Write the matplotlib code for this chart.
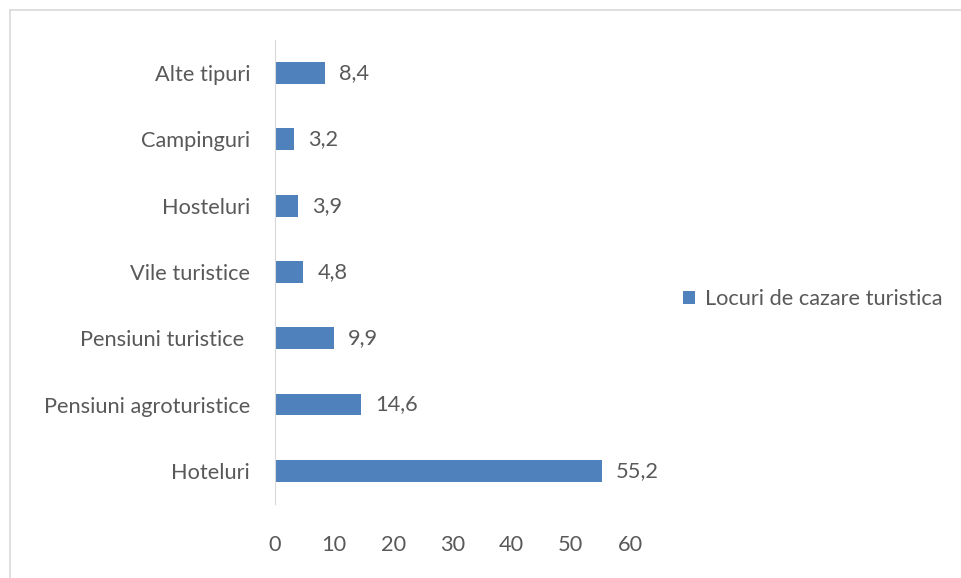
import matplotlib
matplotlib.use('Agg')
import matplotlib.pyplot as plt
from matplotlib.lines import Line2D

categories = ['Hoteluri', 'Pensiuni agroturistice', 'Pensiuni turistice ',
              'Vile turistice', 'Hosteluri', 'Campinguri', 'Alte tipuri']
values = [55.2, 14.6, 9.9, 4.8, 3.9, 3.2, 8.4]
series_name = 'Locuri de cazare turistica'
xticks = [0, 10, 20, 30, 40, 50, 60]

plt.rcParams['font.family'] = ['Lato', 'DejaVu Sans']
TXT = '#595959'
BLUE = '#4f81bd'
FS = 15.7

fig = plt.figure(figsize=(9.62, 5.78), dpi=100)
ax = fig.add_axes([0.2859, 0.128, 0.3690, 0.803])

y = range(len(categories))
ax.barh(y, values, height=0.33, color=BLUE, label=series_name)
for yi, v in zip(y, values):
    ax.annotate(f'{v:.1f}'.replace('.', ','), (v, yi), xytext=(10, 0),
                textcoords='offset points', va='center', ha='left',
                fontsize=FS, color=TXT)

ax.set_xlim(0, 60)
ax.set_ylim(-0.5, len(categories) - 0.5)
ax.set_xticks(xticks)
ax.set_yticks(list(y))
ax.set_yticklabels(categories)
ax.tick_params(axis='both', length=0, labelsize=FS, labelcolor=TXT)
ax.tick_params(axis='y', pad=18)
ax.tick_params(axis='x', pad=22)
for s in ['top', 'right', 'bottom']:
    ax.spines[s].set_visible(False)
ax.spines['left'].set_color('#d9d9d9')

fig.legend(loc='center left', bbox_to_anchor=(0.710, 0.483), frameon=False,
           fontsize=FS, labelcolor=TXT, handlelength=0.55, handleheight=0.55,
           handletextpad=0.45, borderpad=0, borderaxespad=0)

# outer chart border
fig.add_artist(Line2D([10/962, 1], [1 - 10/578] * 2, color='#d9d9d9', lw=1.2))
fig.add_artist(Line2D([10/962] * 2, [0, 1 - 10/578], color='#d9d9d9', lw=1.2))

plt.savefig('out.png', dpi=100)
plt.close()
